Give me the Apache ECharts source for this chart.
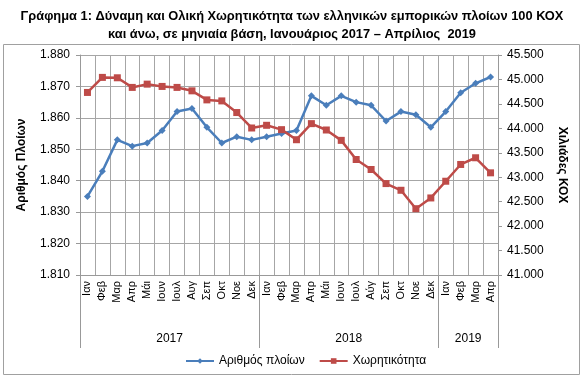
<!DOCTYPE html>
<html><head><meta charset="utf-8">
<script src="https://cdn.jsdelivr.net/npm/echarts@6/dist/echarts.min.js"></script>
<style>html,body{margin:0;padding:0;background:#fff}#c{width:584px;height:382px}</style>
</head><body><div id="c"></div><script>
const months = ['Ιαν','Φεβ','Μαρ','Απρ','Μάι','Ιουν','Ιουλ','Αυγ','Σεπ','Οκτ','Νοε','Δεκ',
                'Ιαν','Φεβ','Μαρ','Απρ','Μάι','Ιουν','Ιουλ','Αύγ','Σεπ','Οκτ','Νοε','Δεκ',
                'Ιαν','Φεβ','Μαρ','Απρ'];
const years = ['2017','2018','2019'];
const yearCounts = [12,12,4];
const ships = [1835,1843,1853,1851,1852,1856,1862,1863,1857,1852,1854,1853,
               1854,1855,1856,1867,1864,1867,1865,1864,1859,1862,1861,1857,
               1862,1868,1871,1873];
const tonnage = [44734,45042,45034,44837,44904,44857,44837,44767,44582,44561,44323,44007,
                 44062,43973,43767,44096,43966,43754,43363,43158,42870,42733,42356,42576,
                 42918,43261,43398,43090];
const leftTicks = {min:1810, max:1880, interval:10};
const rightTicks = {min:41000, max:45500, interval:500};

const fmt = v => Math.round(v).toString().replace(/\B(?=(\d{3})+(?!\d))/g,'.');
const bounds = [0]; const centers = [];
yearCounts.forEach(c => { const s = bounds[bounds.length-1]; centers.push(s + c/2); bounds.push(s + c); });

const FONT = 'Liberation Sans';
const gridColor = '#a6a6a6';
const chart = echarts.init(document.getElementById('c'));
chart.setOption({
  animation: false,
  textStyle: {fontFamily: FONT},
  title: {
    text: 'Γράφημα 1: Δύναμη και Ολική Χωρητικότητα των ελληνικών εμπορικών πλοίων 100 ΚΟΧ\nκαι άνω, σε μηνιαία βάση, Ιανουάριος 2017 – Απρίλιος  2019',
    left: 'center', top: 2,
    textStyle: {fontFamily: FONT, fontSize: 12.85, fontWeight: 'bold', color: '#000', lineHeight: 18}
  },
  graphic: [{type:'rect', shape:{x:3.5, y:44.5, width:576, height:330}, style:{fill:'none', stroke:'#a0a0a0', lineWidth:1}, silent:true, z:-1}],
  legend: {
    top: 350, left: 180, itemWidth: 28, itemHeight: 7, itemGap: 14,
    textStyle: {fontFamily: FONT, fontSize: 12, color: '#000'},
    data: ['Αριθμός πλοίων','Χωρητικότητα']
  },
  grid: {left: 80, right: 86, top: 55, bottom: 107},
  xAxis: [{
    type: 'category', data: months, boundaryGap: true, position: 'bottom',
    axisLine: {show: true, lineStyle: {color: '#999'}},
    axisTick: {show: false},
    splitLine: {show: true, interval: 0, lineStyle: {color: gridColor}},
    axisLabel: {interval: 0, rotate: 90, fontSize: 11, color: '#000', margin: 6, fontFamily: FONT}
  }, {
    type: 'value', min: 0, max: months.length, position: 'bottom',
    axisLine: {show: false}, splitLine: {show: false},
    axisTick: {show: true, customValues: bounds, length: 73, lineStyle: {color: '#999'}},
    axisLabel: {show: true, customValues: centers, margin: 58, fontSize: 12, color: '#000', fontFamily: FONT,
      formatter: v => years[centers.indexOf(v)] || ''}
  }],
  yAxis: [{
    type: 'value', min: leftTicks.min, max: leftTicks.max, interval: leftTicks.interval,
    name: 'Αριθμός Πλοίων', nameLocation: 'middle', nameGap: 52,
    nameTextStyle: {fontFamily: FONT, fontSize: 12, fontWeight: 'bold', color: '#000'},
    axisLine: {show: true, lineStyle: {color: '#999'}},
    axisTick: {show: true, length: 4, lineStyle: {color: '#999'}},
    splitLine: {show: true, lineStyle: {color: gridColor}},
    axisLabel: {formatter: fmt, fontSize: 12, color: '#000', margin: 10, fontFamily: FONT}
  }, {
    type: 'value', min: rightTicks.min, max: rightTicks.max, interval: rightTicks.interval,
    name: 'Χιλιάδες ΚΟΧ', nameLocation: 'middle', nameGap: 58, nameRotate: -90,
    nameTextStyle: {fontFamily: FONT, fontSize: 12, fontWeight: 'bold', color: '#000'},
    axisLine: {show: true, lineStyle: {color: '#999'}},
    axisTick: {show: true, length: 4, lineStyle: {color: '#999'}},
    splitLine: {show: false},
    axisLabel: {formatter: fmt, fontSize: 12, color: '#000', margin: 9, fontFamily: FONT}
  }],
  series: [{
    name: 'Αριθμός πλοίων', type: 'line', data: ships, xAxisIndex: 0, yAxisIndex: 0,
    symbol: 'diamond', symbolSize: 7, showAllSymbol: true,
    lineStyle: {color: '#4A7EBB', width: 2.5}, itemStyle: {color: '#4A7EBB'}
  }, {
    name: 'Χωρητικότητα', type: 'line', data: tonnage, xAxisIndex: 0, yAxisIndex: 1,
    symbol: 'rect', symbolSize: 7, showAllSymbol: true,
    lineStyle: {color: '#BE4B48', width: 2.5}, itemStyle: {color: '#BE4B48'}
  }]
});
</script></body></html>
